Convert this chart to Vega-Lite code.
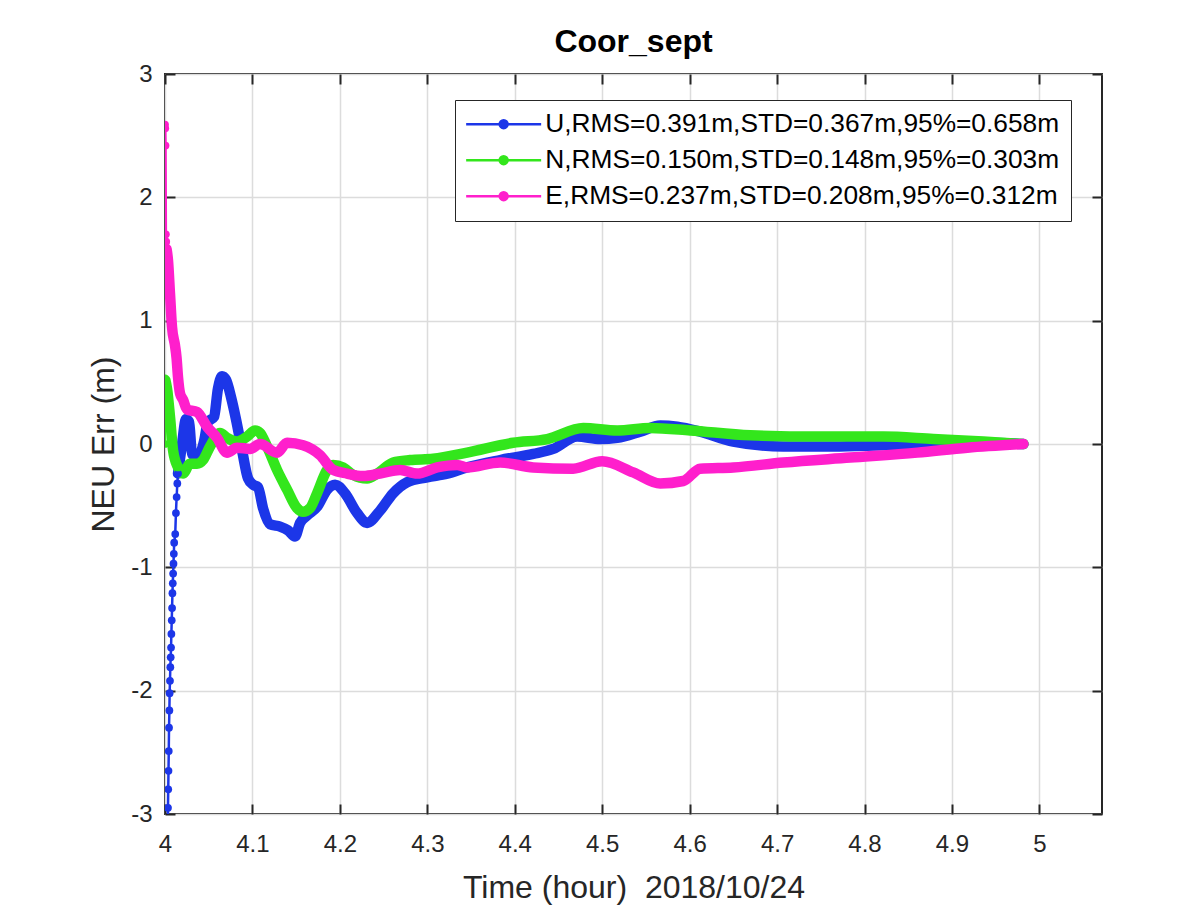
{
  "$schema": "https://vega.github.io/schema/vega-lite/v6.json",
  "width": 937,
  "height": 740,
  "autosize": "none",
  "padding": {"left": 165, "top": 74, "right": 99, "bottom": 97},
  "background": "white",
  "title": {"text": "Coor_sept", "fontSize": 32, "fontWeight": "bold", "font": "Liberation Sans", "color": "#000000", "anchor": "middle", "baseline": "alphabetic", "offset": 17, "dy": 39},
  "config": {
    "font": "Liberation Sans",
    "view": {"stroke": "#262626", "strokeWidth": 2}
  },
  "data": {"values": [
    {"s":"U","t":4.0034,"v":-3.30},{"s":"U","t":4.0034,"v":-2.95},{"s":"U","t":4.0037,"v":-2.80},{"s":"U","t":4.0040,"v":-2.65},{"s":"U","t":4.0043,"v":-2.49},{"s":"U","t":4.0046,"v":-2.30},{"s":"U","t":4.0050,"v":-2.16},{"s":"U","t":4.0053,"v":-2.02},{"s":"U","t":4.0057,"v":-1.92},{"s":"U","t":4.0061,"v":-1.81},{"s":"U","t":4.0065,"v":-1.73},{"s":"U","t":4.0069,"v":-1.65},{"s":"U","t":4.0073,"v":-1.54},{"s":"U","t":4.0077,"v":-1.43},{"s":"U","t":4.0081,"v":-1.33},{"s":"U","t":4.0085,"v":-1.21},{"s":"U","t":4.0089,"v":-1.13},{"s":"U","t":4.0093,"v":-1.05},{"s":"U","t":4.0097,"v":-0.97},{"s":"U","t":4.0101,"v":-0.89},{"s":"U","t":4.0105,"v":-0.80},{"s":"U","t":4.0117,"v":-0.73},{"s":"U","t":4.0125,"v":-0.56},{"s":"U","t":4.0133,"v":-0.43},{"s":"U","t":4.0141,"v":-0.32},{"s":"U","t":4.0149,"v":-0.24},
    {"s":"U","t":4.0195,"v":0.00},{"s":"U","t":4.0240,"v":0.20},{"s":"U","t":4.0275,"v":0.18},{"s":"U","t":4.0309,"v":-0.08},{"s":"U","t":4.0355,"v":-0.10},{"s":"U","t":4.0400,"v":-0.08},{"s":"U","t":4.0446,"v":0.02},{"s":"U","t":4.0492,"v":0.18},{"s":"U","t":4.0561,"v":0.22},{"s":"U","t":4.0606,"v":0.45},{"s":"U","t":4.0652,"v":0.55},{"s":"U","t":4.0698,"v":0.52},{"s":"U","t":4.0755,"v":0.38},{"s":"U","t":4.0812,"v":0.20},{"s":"U","t":4.0881,"v":-0.05},{"s":"U","t":4.0950,"v":-0.28},{"s":"U","t":4.1007,"v":-0.33},{"s":"U","t":4.1064,"v":-0.35},{"s":"U","t":4.1121,"v":-0.52},{"s":"U","t":4.1201,"v":-0.65},{"s":"U","t":4.1316,"v":-0.67},{"s":"U","t":4.1407,"v":-0.70},{"s":"U","t":4.1487,"v":-0.75},{"s":"U","t":4.1545,"v":-0.64},{"s":"U","t":4.1625,"v":-0.58},{"s":"U","t":4.1739,"v":-0.51},{"s":"U","t":4.1854,"v":-0.37},{"s":"U","t":4.1945,"v":-0.33},{"s":"U","t":4.2059,"v":-0.40},{"s":"U","t":4.2197,"v":-0.56},{"s":"U","t":4.2311,"v":-0.64},{"s":"U","t":4.2460,"v":-0.54},{"s":"U","t":4.2609,"v":-0.40},{"s":"U","t":4.2769,"v":-0.31},{"s":"U","t":4.2998,"v":-0.27},{"s":"U","t":4.3227,"v":-0.24},{"s":"U","t":4.3455,"v":-0.19},{"s":"U","t":4.3833,"v":-0.13},{"s":"U","t":4.4211,"v":-0.08},{"s":"U","t":4.4439,"v":-0.04},{"s":"U","t":4.4714,"v":0.06},{"s":"U","t":4.4977,"v":0.04},{"s":"U","t":4.5172,"v":0.05},{"s":"U","t":4.5435,"v":0.10},{"s":"U","t":4.5664,"v":0.15},{"s":"U","t":4.5858,"v":0.14},{"s":"U","t":4.6121,"v":0.10},{"s":"U","t":4.6499,"v":0.02},{"s":"U","t":4.7071,"v":-0.02},{"s":"U","t":4.7643,"v":-0.02},{"s":"U","t":4.8215,"v":-0.01},{"s":"U","t":4.8787,"v":0.00},{"s":"U","t":4.9359,"v":0.01},{"s":"U","t":4.9817,"v":0.00},
    {"s":"N","t":4.0000,"v":0.00},{"s":"N","t":4.0003,"v":0.52},{"s":"N","t":4.0023,"v":0.45},{"s":"N","t":4.0057,"v":0.22},{"s":"N","t":4.0092,"v":-0.05},{"s":"N","t":4.0149,"v":-0.19},{"s":"N","t":4.0206,"v":-0.24},{"s":"N","t":4.0286,"v":-0.16},{"s":"N","t":4.0366,"v":-0.16},{"s":"N","t":4.0435,"v":-0.13},{"s":"N","t":4.0515,"v":-0.02},{"s":"N","t":4.0629,"v":0.09},{"s":"N","t":4.0709,"v":0.05},{"s":"N","t":4.0824,"v":0.02},{"s":"N","t":4.0938,"v":0.06},{"s":"N","t":4.1030,"v":0.11},{"s":"N","t":4.1087,"v":0.09},{"s":"N","t":4.1167,"v":-0.02},{"s":"N","t":4.1281,"v":-0.21},{"s":"N","t":4.1396,"v":-0.37},{"s":"N","t":4.1510,"v":-0.52},{"s":"N","t":4.1579,"v":-0.55},{"s":"N","t":4.1659,"v":-0.52},{"s":"N","t":4.1739,"v":-0.40},{"s":"N","t":4.1854,"v":-0.21},{"s":"N","t":4.1922,"v":-0.17},{"s":"N","t":4.2037,"v":-0.19},{"s":"N","t":4.2151,"v":-0.25},{"s":"N","t":4.2311,"v":-0.28},{"s":"N","t":4.2426,"v":-0.24},{"s":"N","t":4.2609,"v":-0.15},{"s":"N","t":4.2803,"v":-0.13},{"s":"N","t":4.3066,"v":-0.12},{"s":"N","t":4.3455,"v":-0.07},{"s":"N","t":4.3982,"v":0.01},{"s":"N","t":4.4371,"v":0.04},{"s":"N","t":4.4783,"v":0.13},{"s":"N","t":4.5172,"v":0.11},{"s":"N","t":4.5549,"v":0.13},{"s":"N","t":4.6007,"v":0.11},{"s":"N","t":4.6693,"v":0.07},{"s":"N","t":4.7460,"v":0.06},{"s":"N","t":4.8215,"v":0.06},{"s":"N","t":4.8787,"v":0.04},{"s":"N","t":4.9359,"v":0.02},{"s":"N","t":4.9817,"v":0.00},
    {"s":"E","t":4.0000,"v":2.59},{"s":"E","t":4.0003,"v":2.56},{"s":"E","t":4.0006,"v":2.42},{"s":"E","t":4.0010,"v":1.70},{"s":"E","t":4.0014,"v":1.64},{"s":"E","t":4.0018,"v":1.58},{"s":"E","t":4.0034,"v":1.49},{"s":"E","t":4.0057,"v":1.22},{"s":"E","t":4.0080,"v":0.95},{"s":"E","t":4.0114,"v":0.80},{"s":"E","t":4.0132,"v":0.70},{"s":"E","t":4.0149,"v":0.54},{"s":"E","t":4.0172,"v":0.41},{"s":"E","t":4.0206,"v":0.36},{"s":"E","t":4.0252,"v":0.28},{"s":"E","t":4.0366,"v":0.26},{"s":"E","t":4.0481,"v":0.14},{"s":"E","t":4.0595,"v":0.05},{"s":"E","t":4.0709,"v":-0.07},{"s":"E","t":4.0824,"v":-0.03},{"s":"E","t":4.0973,"v":-0.04},{"s":"E","t":4.1087,"v":0.00},{"s":"E","t":4.1281,"v":-0.07},{"s":"E","t":4.1396,"v":0.01},{"s":"E","t":4.1579,"v":-0.01},{"s":"E","t":4.1773,"v":-0.09},{"s":"E","t":4.1922,"v":-0.21},{"s":"E","t":4.2082,"v":-0.24},{"s":"E","t":4.2265,"v":-0.26},{"s":"E","t":4.2460,"v":-0.24},{"s":"E","t":4.2689,"v":-0.21},{"s":"E","t":4.2883,"v":-0.24},{"s":"E","t":4.3112,"v":-0.19},{"s":"E","t":4.3341,"v":-0.17},{"s":"E","t":4.3455,"v":-0.19},{"s":"E","t":4.3833,"v":-0.15},{"s":"E","t":4.4211,"v":-0.19},{"s":"E","t":4.4668,"v":-0.20},{"s":"E","t":4.5000,"v":-0.14},{"s":"E","t":4.5355,"v":-0.23},{"s":"E","t":4.5664,"v":-0.32},{"s":"E","t":4.5927,"v":-0.30},{"s":"E","t":4.6121,"v":-0.20},{"s":"E","t":4.6499,"v":-0.19},{"s":"E","t":4.7071,"v":-0.15},{"s":"E","t":4.7838,"v":-0.11},{"s":"E","t":4.8604,"v":-0.07},{"s":"E","t":4.9176,"v":-0.03},{"s":"E","t":4.9817,"v":0.00}
  ]},
  "layer": [
    {
      "mark": {"type": "line", "strokeWidth": 2.5, "clip": true},
      "encoding": {
        "x": {"field": "t", "type": "quantitative", "scale": {"domain": [4, 5.0716], "nice": false, "zero": false},
          "axis": {"orient": "bottom", "values": [4, 4.1, 4.2, 4.3, 4.4, 4.5, 4.6, 4.7, 4.8, 4.9, 5], "labelExpr": "toString(datum.value)", "labelFlush": false, "domain": false, "grid": true, "gridColor": "#dcdcdc", "gridWidth": 1.5, "ticks": true, "tickSize": -10, "tickWidth": 2, "tickColor": "#262626", "labelFontSize": 24, "labelColor": "#262626", "labelPadding": 28, "labelFont": "Liberation Sans",
            "title": "Time (hour)\u00a0 2018/10/24", "titleFontSize": 32, "titleFontWeight": "normal", "titleColor": "#262626", "titleFont": "Liberation Sans", "titleBaseline": "alphabetic", "titleY": 83, "zindex": 0}},
        "y": {"field": "v", "type": "quantitative", "scale": {"domain": [-3, 3], "nice": false, "zero": false},
          "axis": {"orient": "left", "values": [-3, -2, -1, 0, 1, 2, 3], "labelExpr": "toString(datum.value)", "labelFlush": false, "domain": false, "grid": true, "gridColor": "#dcdcdc", "gridWidth": 1.5, "ticks": true, "tickSize": -10, "tickWidth": 2, "tickColor": "#262626", "labelFontSize": 24, "labelColor": "#262626", "labelPadding": 23, "labelFont": "Liberation Sans",
            "title": "NEU Err (m)", "titleFontSize": 32, "titleFontWeight": "normal", "titleColor": "#262626", "titleFont": "Liberation Sans", "titleBaseline": "alphabetic", "titleX": -52, "titleY": 370, "zindex": 0}},
        "color": {"field": "s", "type": "nominal",
          "scale": {"domain": ["U", "N", "E"], "range": ["#1c36e8", "#33e61c", "#ff1fcc"]},
          "legend": {"orient": "none", "legendX": 290, "legendY": 26, "title": null,
            "labelExpr": "datum.value == 'U' ? 'U,RMS=0.391m,STD=0.367m,95%=0.658m' : datum.value == 'N' ? 'N,RMS=0.150m,STD=0.148m,95%=0.303m' : 'E,RMS=0.237m,STD=0.208m,95%=0.312m'",
            "labelFontSize": 26.3, "labelFont": "Liberation Sans", "labelColor": "#000000", "labelLimit": 0,
            "symbolType": "M-7.5,0H7.5M0.8,0A0.8,0.8,0,1,1,-0.8,0A0.8,0.8,0,1,1,0.8,0Z",
            "symbolSize": 100, "symbolStrokeWidth": 2.5, "symbolOffset": 24.5, "labelOffset": 28.5,
            "rowPadding": 9, "padding": 11, "strokeColor": "#262626", "fillColor": "white",
            "encode": {"symbols": {"update": {"fill": {"scale": "color", "field": "value"}}}}}
        }
      }
    },
    {
      "transform": [{"filter": "datum.t >= (datum.s == 'U' ? 4.0149 : datum.s == 'E' ? 4.0018 : 4.0003)"}],
      "mark": {"type": "line", "strokeWidth": 10.5, "strokeCap": "round", "strokeJoin": "round", "interpolate": "monotone", "clip": true},
      "encoding": {
        "x": {"field": "t", "type": "quantitative",
          "axis": {"orient": "top", "values": [4, 4.1, 4.2, 4.3, 4.4, 4.5, 4.6, 4.7, 4.8, 4.9, 5], "labels": false, "domain": false, "grid": false, "ticks": true, "tickSize": -10, "tickWidth": 2, "tickColor": "#262626", "title": null}},
        "y": {"field": "v", "type": "quantitative",
          "axis": {"orient": "right", "values": [-3, -2, -1, 0, 1, 2, 3], "labels": false, "domain": false, "grid": false, "ticks": true, "tickSize": -10, "tickWidth": 2, "tickColor": "#262626", "title": null}},
        "color": {"field": "s", "type": "nominal"}
      }
    },
    {
      "transform": [{"filter": "datum.t <= 4.0149"}],
      "mark": {"type": "point", "filled": true, "size": 60, "opacity": 1, "clip": true},
      "encoding": {
        "x": {"field": "t", "type": "quantitative", "axis": null},
        "y": {"field": "v", "type": "quantitative", "axis": null},
        "color": {"field": "s", "type": "nominal"}
      }
    }
  ],
  "resolve": {"axis": {"x": "independent", "y": "independent"}}
}
